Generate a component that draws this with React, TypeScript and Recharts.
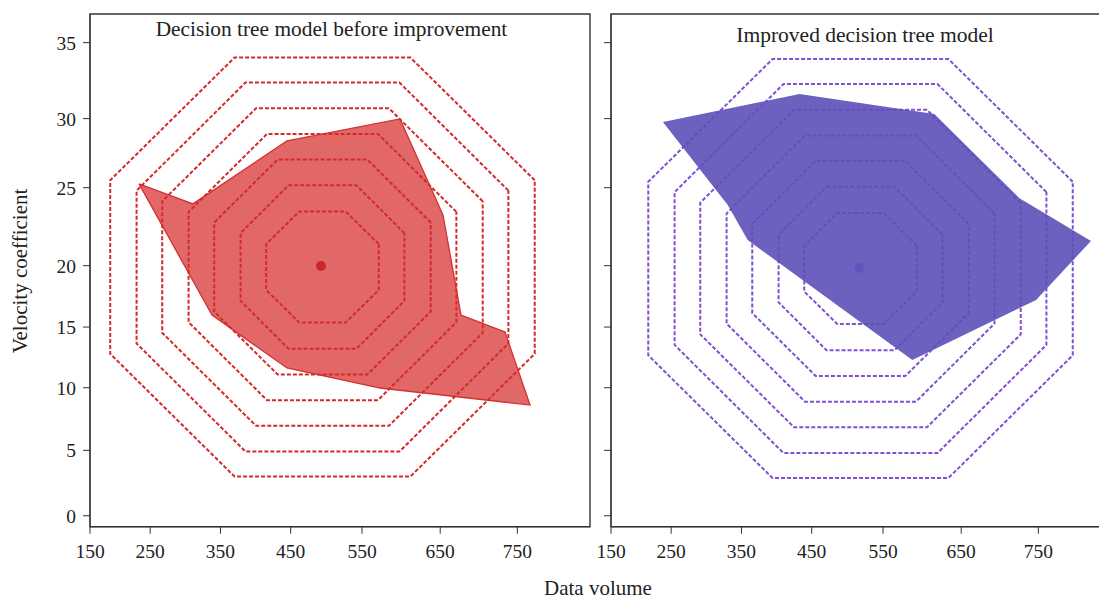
import React from 'react';
import { ScatterChart, Scatter, XAxis, YAxis, ReferenceArea } from 'recharts';

// Axis tick positions (in plot units) and their printed labels
const xTickPositions = [150, 234.5, 333.2, 431.8, 531.9, 641.7, 750];
const xTickLabels = ['150', '250', '350', '450', '550', '650', '750'];
const yTickPositions = [0, 4.84, 9.47, 13.96, 18.5, 24.27, 29.38, 35];
const yTickLabels = ['0', '5', '10', '15', '20', '25', '30', '35'];
const xDomain: [number, number] = [150, 852];
const yDomain: [number, number] = [-0.81, 37.12];

// Panel 1: decision tree model before improvement (polygon vertices)
const beforeX = [218.8, 294.6, 426.6, 585.2, 645.6, 670.9, 732.7, 767.8, 557.2, 426.6, 321.3];
const beforeY = [24.55, 23.07, 27.73, 29.36, 22.25, 14.85, 13.59, 8.19, 9.45, 10.93, 14.85];
const beforeCenter = { x: 474.3, y: 18.48 };
const beforeGridCenter = { x: 476.4, y: 18.4 };

// Panel 2: improved decision tree model (polygon vertices)
const improvedX = [222.9, 414.8, 603.9, 723.0, 823.9, 746.8, 573.1, 341.9, 313.9];
const improvedY = [29.13, 31.2, 29.73, 23.51, 20.33, 15.96, 11.52, 20.4, 22.99];
const improvedCenter = { x: 498.8, y: 18.33 };
const improvedGridCenter = { x: 500.3, y: 18.29 };

// Octagon reference rings (half-extent in x units and y units)
const gridLevelsX = [79, 115, 152, 188, 225, 261, 298];
const gridLevelsY = [4.1, 6.05, 7.95, 9.85, 11.75, 13.65, 15.5];

const FONT = "'Liberation Serif', 'DejaVu Serif', serif";

type Pt = { x: number; y: number };

const closedPolygon = (xs: number[], ys: number[]): Pt[] => {
  const pts = xs.map((x, i) => ({ x, y: ys[i] }));
  return [...pts, pts[0]];
};

const octagon = (c: Pt, rx: number, ry: number): Pt[] => {
  const k = 1 / Math.cos(Math.PI / 8);
  const pts: Pt[] = [];
  for (let i = 0; i <= 8; i++) {
    const a = Math.PI / 8 + (i % 8) * (Math.PI / 4);
    pts.push({ x: c.x + rx * k * Math.cos(a), y: c.y + ry * k * Math.sin(a) });
  }
  return pts;
};

const EmptyShape = () => <g />;

const DotShape = (color: string) => (props: any) => (
  <circle cx={props.cx} cy={props.cy} r={5} fill={color} />
);

type PanelProps = {
  xs: number[];
  ys: number[];
  center: Pt;
  gridCenter: Pt;
  fill: string;
  fillOpacity: number;
  edge: string;
  ring: string;
  dot: string;
  ringsOnTop: boolean;
  showYLabels: boolean;
};

const Panel = (p: PanelProps) => {
  const poly = closedPolygon(p.xs, p.ys);
  const rings = gridLevelsX.map((rx, i) => (
    <Scatter
      key={'ring' + i}
      data={octagon(p.gridCenter, rx, gridLevelsY[i])}
      shape={EmptyShape}
      line={{ stroke: p.ring, strokeWidth: 2, strokeDasharray: '4 2', fill: 'none' }}
      lineType="joint"
      legendType="none"
      isAnimationActive={false}
    />
  ));
  const polygon = (
    <Scatter
      key="poly"
      data={poly}
      shape={EmptyShape}
      line={{ stroke: p.edge, strokeWidth: 1.3, fill: p.fill, fillOpacity: p.fillOpacity, strokeLinejoin: 'miter' }}
      lineType="joint"
      legendType="none"
      isAnimationActive={false}
    />
  );
  const dot = (
    <Scatter
      key="dot"
      data={[p.center]}
      shape={DotShape(p.dot)}
      legendType="none"
      isAnimationActive={false}
    />
  );
  const layers = p.ringsOnTop ? [polygon, ...rings, dot] : [...rings, dot, polygon];
  return (
    <ScatterChart width={600} height={600} margin={{ top: 14, right: 10, bottom: 33.3, left: 0 }}>
      <XAxis
        type="number"
        dataKey="x"
        domain={xDomain}
        allowDataOverflow
        ticks={xTickPositions}
        tickFormatter={(v: number) => xTickLabels[xTickPositions.indexOf(v)] ?? ''}
        interval={0}
        height={40}
        stroke="#333"
        tickSize={7}
        tickMargin={10}
        tick={{ fill: '#222', fontSize: 19.5, fontFamily: FONT }}
      />
      <YAxis
        type="number"
        dataKey="y"
        domain={yDomain}
        allowDataOverflow
        ticks={yTickPositions}
        tickFormatter={(v: number) => (p.showYLabels ? yTickLabels[yTickPositions.indexOf(v)] ?? '' : '')}
        interval={0}
        width={90}
        stroke="#333"
        tickSize={7}
        tickMargin={7}
        tick={{ fill: '#222', fontSize: 19.5, fontFamily: FONT }}
      />
      {layers}
      <ReferenceArea
        x1={xDomain[0]}
        x2={xDomain[1]}
        y1={yDomain[0]}
        y2={yDomain[1]}
        fill="none"
        stroke="#333"
        strokeWidth={1.4}
        ifOverflow="visible"
      />
    </ScatterChart>
  );
};

export default function App() {
  return (
    <div style={{ position: 'absolute', left: 0, top: 0, width: 1099, height: 600, overflow: 'hidden', background: '#fff' }}>
      <div style={{ position: 'absolute', left: 0, top: 0 }}>
        <Panel
          xs={beforeX}
          ys={beforeY}
          center={beforeCenter}
          gridCenter={beforeGridCenter}
          fill="#e26868"
          fillOpacity={1}
          edge="#d03232"
          ring="#d42a2a"
          dot="#c82828"
          ringsOnTop
          showYLabels
        />
      </div>
      <div style={{ position: 'absolute', left: 521, top: 0 }}>
        <Panel
          xs={improvedX}
          ys={improvedY}
          center={improvedCenter}
          gridCenter={improvedGridCenter}
          fill="#5d50b8"
          fillOpacity={0.9}
          edge="none"
          ring="#8050d4"
          dot="#a060d0"
          ringsOnTop={false}
          showYLabels={false}
        />
      </div>
      <svg
        width={1099}
        height={600}
        style={{ position: 'absolute', left: 0, top: 0, pointerEvents: 'none' }}
        fontFamily={FONT}
      >
        <text x={331.5} y={36} textAnchor="middle" fontSize={21.4} fill="#222">
          Decision tree model before improvement
        </text>
        <text x={865} y={42} textAnchor="middle" fontSize={21.5} fill="#222">
          Improved decision tree model
        </text>
        <text x={598} y={595} textAnchor="middle" fontSize={21} fill="#222">
          Data volume
        </text>
        <text
          x={0}
          y={0}
          transform="translate(27,271) rotate(-90)"
          textAnchor="middle"
          fontSize={21}
          fill="#222"
        >
          Velocity coefficient
        </text>
      </svg>
    </div>
  );
}
